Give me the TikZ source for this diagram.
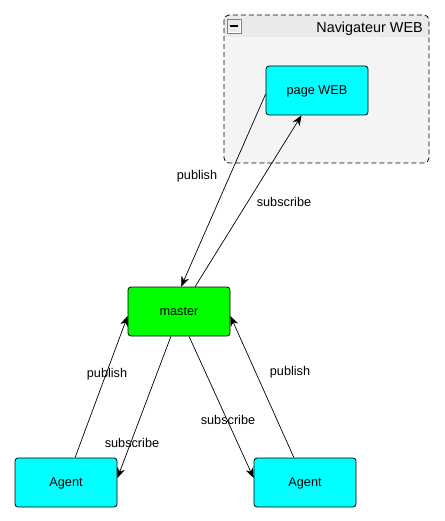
\documentclass[tikz,border=0pt]{standalone}
\usepackage{fontspec}
\setmainfont{Liberation Sans}
\usetikzlibrary{arrows.meta}
\definecolor{pkgbody}{HTML}{F4F4F4}
\definecolor{pkghead}{HTML}{EAEAEA}
\definecolor{agentcol}{HTML}{00FFFF}
\definecolor{mastercol}{HTML}{00FF00}
\tikzset{
	box/.style={draw, line width=0.8pt, rounded corners=3pt, minimum width=102pt, minimum height=49pt, inner sep=0pt, text height=9.5pt, text depth=2pt, font=\fontsize{12.7}{14}\selectfont},
	flow/.style={-{Stealth[length=10pt,width=8pt,inset=3pt]}, line width=0.7pt},
	lbl/.style={inner sep=0pt, text height=9.5pt, text depth=2pt, font=\fontsize{12.7}{14}\selectfont},
}

\begin{document}
\begin{tikzpicture}[x=1pt,y=-1pt]
	\useasboundingbox (0,0) rectangle (444,521);

	%PACKAGE
	\fill[pkgbody, rounded corners=5pt] (224,15) rectangle (429,163);
	\begin{scope}
		\clip[rounded corners=5pt] (224,15) rectangle (429,163);
		\fill[pkghead] (224,15) rectangle (429,37);
	\end{scope}
	\draw[dash pattern=on 5pt off 3pt, line width=0.8pt, rounded corners=5pt] (224,15) rectangle (429,163);
	\node[draw=white, fill=pkghead, line width=0.8pt, minimum size=13pt, inner sep=0pt] (icon) at (234,26) {};
	\draw[gray, line width=0.6pt] (icon.north west) rectangle (icon.south east);
	\draw[line width=2pt] (230,26) -- (238,26);
	\node[anchor=east, inner sep=0pt, text height=11pt, text depth=2.5pt, font=\fontsize{14.4}{16}\selectfont] (title) at (423,28) {Navigateur WEB};

	%NODES
	\node[box, fill=agentcol] (web) at (317,90.5) {page WEB};
	\node[box, fill=mastercol] (master) at (179,311.5) {master};
	\node[box, fill=agentcol] (agentA) at (66,482.5) {Agent};
	\node[box, fill=agentcol] (agentB) at (305,482.5) {Agent};

	%LINES
	\draw[flow] (web.184) -- (master.85);
	\draw[flow] (master.57) -- (web.238);
	\draw[flow] (agentA.70) -- (master.185);
	\draw[flow] (master.252) -- (agentA.5);
	\draw[flow] (master.292) -- (agentB.175);
	\draw[flow] (agentB.114) -- (master.355);

	%LABELS
	\node[lbl] (pubweb) at (197,176) {publish};
	\node[lbl] (subweb) at (284,203) {subscribe};
	\node[lbl] (pubA) at (107,374) {publish};
	\node[lbl] (subA) at (132,444) {subscribe};
	\node[lbl] (subB) at (228,421) {subscribe};
	\node[lbl] (pubB) at (290,372) {publish};
\end{tikzpicture}
\end{document}
